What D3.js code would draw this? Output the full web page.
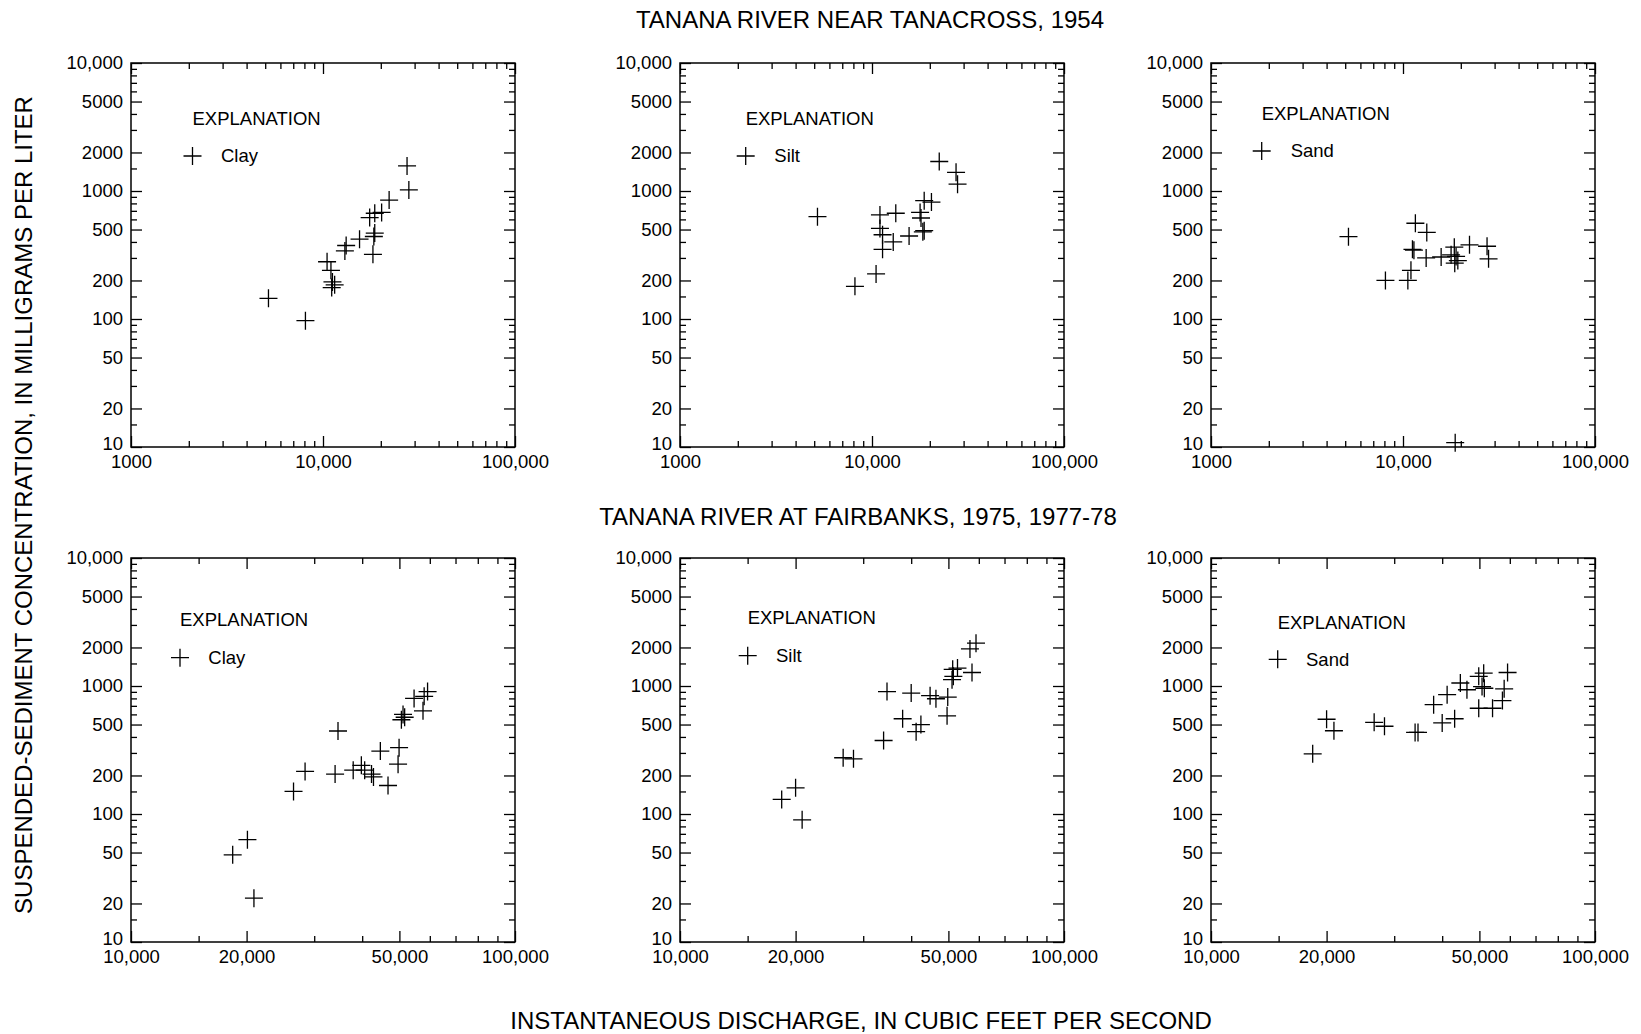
<!DOCTYPE html>
<html>
<head>
<meta charset="utf-8">
<script src="https://cdn.jsdelivr.net/npm/d3@7"></script>
<style>
  body { margin: 0; background: #fff; }
  svg { display: block; font-family: "Liberation Sans", Arial, Helvetica, sans-serif; }
</style>
</head>
<body>
<svg id="chart" width="1641" height="1034"></svg>
<script>
// ---- Data: [instantaneous discharge (ft3/s), suspended-sediment concentration (mg/L)] ----
const tanacrossClay = [
  [5200, 145], [8100, 97], [10500, 280], [11000, 240], [11200, 195], [11500, 185],
  [11100, 176], [13200, 375], [13000, 340], [15500, 420], [17500, 620], [18600, 670],
  [20200, 680], [18600, 469], [18400, 441], [18200, 320], [22100, 850], [27400, 1570],
  [28000, 1020]
];
const tanacrossSilt = [
  [5200, 630], [8150, 180], [10500, 225], [11000, 650], [11000, 510], [11350, 455],
  [11350, 350], [12900, 400], [13300, 670], [15600, 445], [17800, 680], [18000, 615],
  [18700, 840], [20400, 820], [18700, 490], [18400, 480], [22400, 1700], [27400, 1400],
  [27900, 1130]
];
const tanacrossSand = [
  [5200, 440], [8100, 200], [10600, 200], [11000, 240], [11200, 350], [11400, 345],
  [11600, 560], [13300, 475], [13200, 300], [15800, 305], [18500, 364], [18900, 308],
  [17800, 317], [19300, 286], [18600, 273], [22200, 380], [27400, 370], [27900, 295],
  [18700, 10.8]
];
const fairbanksClay = [
  [18400, 48], [20100, 63], [20900, 22], [26500, 150], [28400, 215], [34000, 205],
  [34600, 445], [37900, 220], [39800, 240], [40600, 220], [42300, 205], [42800, 195],
  [44600, 310], [46700, 167], [49600, 245], [49900, 330], [50600, 545], [51100, 600],
  [51600, 570], [54600, 800], [57600, 640], [58000, 830], [59200, 905]
];
const fairbanksSilt = [
  [18400, 130], [20000, 160], [20800, 90], [26600, 275], [28300, 270], [33900, 375],
  [34600, 905], [38000, 555], [40000, 880], [41200, 440], [42400, 500], [44800, 840],
  [46400, 795], [49600, 585], [49800, 820], [51100, 1120], [51500, 1190], [52800, 1380],
  [51300, 1350], [57600, 1275], [56900, 1950], [59000, 2160]
];
const fairbanksSand = [
  [18400, 295], [20000, 550], [20900, 447], [26600, 520], [28300, 485], [34000, 434],
  [34600, 434], [38000, 715], [40000, 515], [41200, 855], [43100, 555], [44600, 1055],
  [46400, 935], [49800, 670], [49800, 1190], [51300, 1260], [50800, 990], [51500, 960],
  [54100, 670], [57400, 770], [58000, 950], [59200, 1275]
];

// ---- Axis ticks ----
const concDomain = [10, 10000];
const concLabelTicks = [10, 20, 50, 100, 200, 500, 1000, 2000, 5000, 10000];
const concMinorTicks = [15, 30, 40, 60, 70, 80, 90, 150, 300, 400, 600, 700, 800, 900,
  1500, 3000, 4000, 6000, 7000, 8000, 9000];

const tanacrossQDomain = [1000, 100000];
const tanacrossQLabelTicks = [1000, 10000, 100000];
const tanacrossQMinorTicks = [2000, 3000, 4000, 5000, 6000, 7000, 8000, 9000,
  20000, 30000, 40000, 50000, 60000, 70000, 80000, 90000];

const fairbanksQDomain = [10000, 100000];
const fairbanksQLabelTicks = [10000, 20000, 50000, 100000];
const fairbanksQMinorTicks = [15000, 30000, 40000, 60000, 70000, 80000, 90000];

// ---- Text ----
const stationTitles = ["TANANA RIVER NEAR TANACROSS, 1954", "TANANA RIVER AT FAIRBANKS, 1975, 1977-78"];
const sizeClasses = ["Clay", "Silt", "Sand"];
const yAxisTitle = "SUSPENDED-SEDIMENT CONCENTRATION, IN MILLIGRAMS PER LITER";
const xAxisTitle = "INSTANTANEOUS DISCHARGE, IN CUBIC FEET PER SECOND";
const legendHeading = "EXPLANATION";

// ---- Layout ----
const svg = d3.select("#chart");
const SIZE = 384;
const colLeft = [131, 680, 1211];
const rowTop = [63, 558];
const MAJOR = 11, MINOR = 6;
const TICK_FONT = 18.5, TITLE_FONT = 24;

const fmt = d => d >= 10000 ? d3.format(",")(d) : String(d);

const rows = [
  { data: [tanacrossClay, tanacrossSilt, tanacrossSand],
    qDomain: tanacrossQDomain, qLabels: tanacrossQLabelTicks, qMinor: tanacrossQMinorTicks,
    legend: [{ x: 61.5, y: 56, py: 93, lx: 90 }, { x: 65.7, y: 56, py: 93, lx: 94.3 }, { x: 50.7, y: 50.3, py: 88, lx: 79.7 }] },
  { data: [fairbanksClay, fairbanksSilt, fairbanksSand],
    qDomain: fairbanksQDomain, qLabels: fairbanksQLabelTicks, qMinor: fairbanksQMinorTicks,
    legend: [{ x: 49, y: 62, py: 99.7, lx: 77.3 }, { x: 67.7, y: 59.3, py: 97.7, lx: 96 }, { x: 66.7, y: 64.3, py: 101.3, lx: 95 }] }
];

const plusPath = "M-9,0H9M0,-9V9";

function styleAxis(g) {
  g.select(".domain").remove();
  g.selectAll(".tick line").attr("stroke", "#000").attr("stroke-width", 1.3);
  g.selectAll(".tick text").attr("fill", "#000").attr("font-size", TICK_FONT)
    .attr("font-family", '"Liberation Sans", Arial, Helvetica, sans-serif');
}

rows.forEach((row, ri) => {
  row.data.forEach((pts, ci) => {
    const g = svg.append("g").attr("transform", `translate(${colLeft[ci]},${rowTop[ri]})`);
    const x = d3.scaleLog().domain(row.qDomain).range([0, SIZE]);
    const y = d3.scaleLog().domain(concDomain).range([SIZE, 0]);

    // Left axis: labelled long ticks and short minor ticks, all pointing inward
    const left = g.append("g").call(d3.axisLeft(y).tickValues(concLabelTicks).tickFormat(fmt)
      .tickSizeInner(-MAJOR).tickSizeOuter(0).tickPadding(8)).call(styleAxis);
    // lift the lowest label clear of the discharge labels below the corner
    left.selectAll(".tick text").filter(d => d === concDomain[0]).attr("dy", "0.15em");
    g.append("g").call(d3.axisLeft(y).tickValues(concMinorTicks).tickFormat("")
      .tickSizeInner(-MINOR).tickSizeOuter(0)).call(styleAxis);
    // Right axis mirror
    g.append("g").attr("transform", `translate(${SIZE},0)`)
      .call(d3.axisRight(y).tickValues(concLabelTicks).tickFormat("").tickSizeInner(-MAJOR).tickSizeOuter(0)).call(styleAxis);
    g.append("g").attr("transform", `translate(${SIZE},0)`)
      .call(d3.axisRight(y).tickValues(concMinorTicks).tickFormat("").tickSizeInner(-MINOR).tickSizeOuter(0)).call(styleAxis);

    // Bottom axis
    g.append("g").attr("transform", `translate(0,${SIZE})`)
      .call(d3.axisBottom(x).tickValues(row.qLabels).tickFormat(fmt)
        .tickSizeInner(-MAJOR).tickSizeOuter(0).tickPadding(8)).call(styleAxis);
    g.append("g").attr("transform", `translate(0,${SIZE})`)
      .call(d3.axisBottom(x).tickValues(row.qMinor).tickFormat("").tickSizeInner(-MINOR).tickSizeOuter(0)).call(styleAxis);
    // Top axis mirror
    g.append("g").call(d3.axisTop(x).tickValues(row.qLabels).tickFormat("").tickSizeInner(-MAJOR).tickSizeOuter(0)).call(styleAxis);
    g.append("g").call(d3.axisTop(x).tickValues(row.qMinor).tickFormat("").tickSizeInner(-MINOR).tickSizeOuter(0)).call(styleAxis);

    // Frame
    g.append("rect").attr("width", SIZE).attr("height", SIZE)
      .attr("fill", "none").attr("stroke", "#000").attr("stroke-width", 1.5);

    // Observations
    g.append("g").selectAll("path").data(pts).join("path")
      .attr("transform", d => `translate(${x(d[0])},${y(d[1])})`)
      .attr("d", plusPath).attr("stroke", "#000").attr("stroke-width", 1.3).attr("fill", "none");

    // Explanation
    const lg = row.legend[ci];
    g.append("text").attr("x", lg.x).attr("y", lg.y).attr("dy", "0.35em")
      .attr("font-size", TICK_FONT).text(legendHeading);
    g.append("path").attr("transform", `translate(${lg.x},${lg.py})`)
      .attr("d", plusPath).attr("stroke", "#000").attr("stroke-width", 1.3);
    g.append("text").attr("x", lg.lx).attr("y", lg.py).attr("dy", "0.35em")
      .attr("font-size", TICK_FONT).text(sizeClasses[ci]);
  });
});

// Station titles
svg.append("text").attr("x", 870).attr("y", 27.5).attr("text-anchor", "middle")
  .attr("font-size", TITLE_FONT).text(stationTitles[0]);
svg.append("text").attr("x", 858).attr("y", 524.5).attr("text-anchor", "middle")
  .attr("font-size", TITLE_FONT).text(stationTitles[1]);

// Shared axis titles
svg.append("text").attr("transform", "translate(31.5,505) rotate(-90)")
  .attr("text-anchor", "middle").attr("font-size", TITLE_FONT).text(yAxisTitle);
svg.append("text").attr("x", 861).attr("y", 1029).attr("text-anchor", "middle")
  .attr("font-size", TITLE_FONT).text(xAxisTitle);
</script>
</body>
</html>
